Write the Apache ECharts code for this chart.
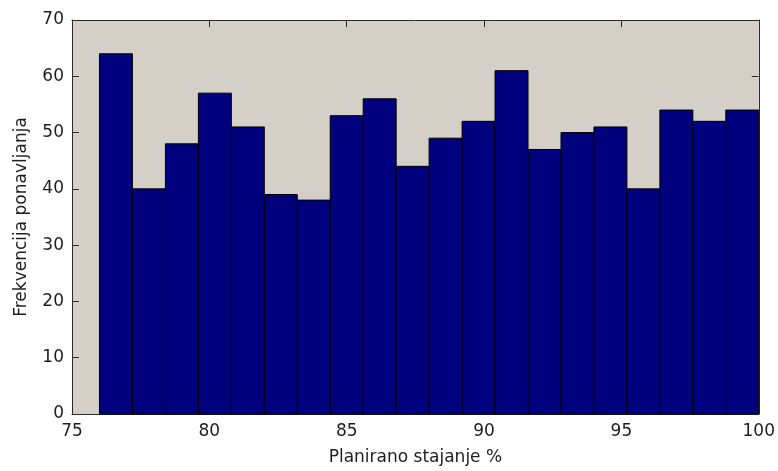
<!DOCTYPE html>
<html>
<head>
<meta charset="utf-8">
<script src="https://cdn.jsdelivr.net/npm/echarts@6/dist/echarts.min.js"></script>
<style>
  html, body { margin: 0; padding: 0; background: #ffffff; }
  #chart { width: 778px; height: 471px; }
</style>
</head>
<body>
<div id="chart"></div>
<script>
// Histogram of planned standing percentage: 20 equal bins from 76 to 100
const binStart = 76;
const binWidth = 1.2;
const counts = [64, 40, 48, 57, 51, 39, 38, 53, 56, 44, 49, 52, 61, 47, 50, 51, 40, 54, 52, 54];

const xTicks = [75, 80, 85, 90, 95, 100];
const yTicks = [0, 10, 20, 30, 40, 50, 60, 70];

const xTitle = 'Planirano stajanje %';
const yTitle = 'Frekvencija ponavljanja';

const bins = counts.map((c, i) => [binStart + i * binWidth, binStart + (i + 1) * binWidth, c]);

const fontFam = 'DejaVu Sans, Liberation Sans, Arial, sans-serif';
const textColor = '#1e1e1e';
const axisColor = '#2b2b2b';

const chart = echarts.init(document.getElementById('chart'));

const baseX = {
  type: 'value',
  min: xTicks[0],
  max: xTicks[xTicks.length - 1],
  interval: 5,
  splitLine: { show: false },
  axisLine: { show: true, onZero: false, lineStyle: { color: axisColor, width: 1 } },
  axisTick: { show: true, inside: true, length: 7, lineStyle: { color: axisColor } }
};
const baseY = {
  type: 'value',
  min: yTicks[0],
  max: yTicks[yTicks.length - 1],
  interval: 10,
  splitLine: { show: false },
  axisLine: { show: true, onZero: false, lineStyle: { color: axisColor, width: 1 } },
  axisTick: { show: true, inside: true, length: 7, lineStyle: { color: axisColor } }
};

chart.setOption({
  backgroundColor: '#ffffff',
  animation: false,
  grid: {
    left: 72, right: 16, top: 20, bottom: 57,
    show: true, backgroundColor: '#d4d0c8', borderWidth: 0
  },
  xAxis: [
    Object.assign({}, baseX, {
      position: 'bottom',
      name: xTitle,
      nameLocation: 'middle',
      nameGap: 35,
      nameTextStyle: { color: textColor, fontSize: 17, fontFamily: fontFam },
      axisLabel: { color: textColor, fontSize: 17, fontFamily: fontFam, margin: 9 }
    }),
    Object.assign({}, baseX, { position: 'top', axisLabel: { show: false } })
  ],
  yAxis: [
    Object.assign({}, baseY, {
      position: 'left',
      name: yTitle,
      nameLocation: 'middle',
      nameGap: 42,
      nameTextStyle: { color: textColor, fontSize: 17, fontFamily: fontFam },
      axisLabel: { color: textColor, fontSize: 17, fontFamily: fontFam, margin: 8 }
    }),
    Object.assign({}, baseY, { position: 'right', axisLabel: { show: false } })
  ],
  series: [{
    type: 'custom',
    xAxisIndex: 0,
    yAxisIndex: 0,
    data: bins,
    renderItem: function (params, api) {
      const p0 = api.coord([api.value(0), 0]);
      const p1 = api.coord([api.value(1), api.value(2)]);
      return {
        type: 'rect',
        shape: { x: p0[0], y: p1[1], width: p1[0] - p0[0], height: p0[1] - p1[1] },
        style: { fill: '#00007f', stroke: '#000000', lineWidth: 1 }
      };
    },
    encode: { x: [0, 1], y: 2 }
  }]
});
</script>
</body>
</html>
